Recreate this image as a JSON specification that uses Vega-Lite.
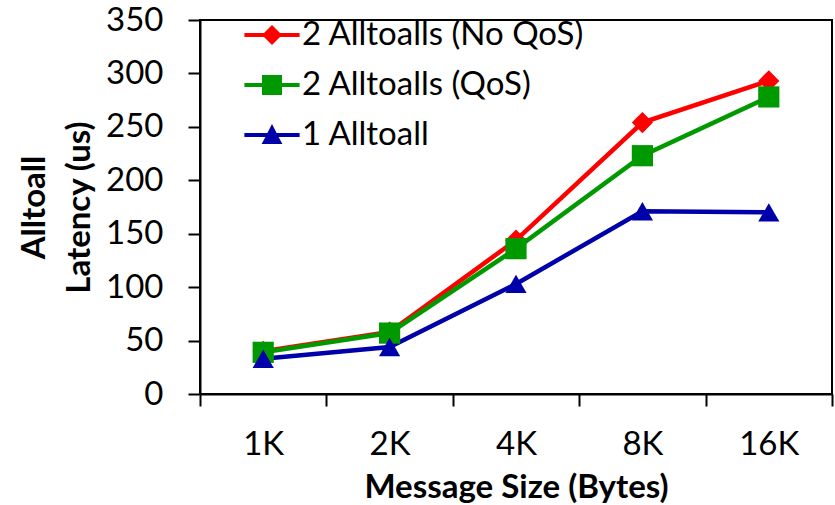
{
  "$schema": "https://vega.github.io/schema/vega-lite/v6.json",
  "width": 632,
  "height": 374,
  "autosize": {"type": "none"},
  "padding": {"left": 200, "top": 20, "right": 3, "bottom": 111},
  "background": "white",
  "config": {
    "view": {"stroke": "black", "strokeWidth": 2},
    "font": "Lato"
  },
  "data": {
    "values": [
      {"size": "1K", "series": "2 Alltoalls (No QoS)", "latency": 40},
      {"size": "2K", "series": "2 Alltoalls (No QoS)", "latency": 58},
      {"size": "4K", "series": "2 Alltoalls (No QoS)", "latency": 144},
      {"size": "8K", "series": "2 Alltoalls (No QoS)", "latency": 254},
      {"size": "16K", "series": "2 Alltoalls (No QoS)", "latency": 293},
      {"size": "1K", "series": "2 Alltoalls (QoS)", "latency": 39},
      {"size": "2K", "series": "2 Alltoalls (QoS)", "latency": 57},
      {"size": "4K", "series": "2 Alltoalls (QoS)", "latency": 136},
      {"size": "8K", "series": "2 Alltoalls (QoS)", "latency": 223},
      {"size": "16K", "series": "2 Alltoalls (QoS)", "latency": 278},
      {"size": "1K", "series": "1 Alltoall", "latency": 33},
      {"size": "2K", "series": "1 Alltoall", "latency": 44},
      {"size": "4K", "series": "1 Alltoall", "latency": 103},
      {"size": "8K", "series": "1 Alltoall", "latency": 171},
      {"size": "16K", "series": "1 Alltoall", "latency": 170}
    ]
  },
  "encoding": {
    "x": {
      "field": "size",
      "type": "ordinal",
      "sort": ["1K", "2K", "4K", "8K", "16K"],
      "scale": {"type": "band", "paddingInner": 0, "paddingOuter": 0},
      "axis": {
        "title": "Message Size (Bytes)",
        "titleFont": "Lato",
        "titleFontSize": 33,
        "titleFontWeight": "bold",
        "titleColor": "black",
        "titleBaseline": "alphabetic",
        "titleY": 103,
        "labelAngle": 0,
        "labelFont": "Lato",
        "labelFontSize": 33,
        "labelColor": "black",
        "labelBaseline": "alphabetic",
        "labelPadding": 48,
        "tickBand": "extent",
        "tickSize": 12,
        "tickColor": "black",
        "tickWidth": 2,
        "domainColor": "black",
        "domainWidth": 2,
        "grid": false
      }
    },
    "y": {
      "field": "latency",
      "type": "quantitative",
      "scale": {"domain": [0, 350], "nice": false},
      "axis": {
        "title": ["Alltoall", "Latency (us)"],
        "titleFont": "Lato",
        "titleFontSize": 33,
        "titleFontWeight": "bold",
        "titleColor": "black",
        "titleAngle": 270,
        "titleBaseline": "alphabetic",
        "titleAlign": "center",
        "titleX": -156,
        "titleY": 187,
        "titleLineHeight": 45,
        "values": [0, 50, 100, 150, 200, 250, 300, 350],
        "labelFont": "Lato",
        "labelFontSize": 33,
        "labelColor": "black",
        "labelPadding": 25,
        "tickSize": 12,
        "tickColor": "black",
        "tickWidth": 2,
        "domainColor": "black",
        "domainWidth": 2,
        "grid": false
      }
    }
  },
  "layer": [
    {
      "mark": {"type": "line", "strokeWidth": 4.5},
      "encoding": {
        "color": {
          "field": "series",
          "type": "nominal",
          "scale": {
            "domain": ["2 Alltoalls (No QoS)", "2 Alltoalls (QoS)", "1 Alltoall"],
            "range": ["#FF0000", "#009900", "#0000AA"]
          },
          "legend": null
        }
      }
    },
    {
      "mark": {"type": "point", "filled": true, "size": 450, "opacity": 1},
      "encoding": {
        "color": {
          "field": "series",
          "type": "nominal",
          "scale": {
            "domain": ["2 Alltoalls (No QoS)", "2 Alltoalls (QoS)", "1 Alltoall"],
            "range": ["#FF0000", "#009900", "#0000AA"]
          },
          "legend": null
        },
        "shape": {
          "field": "series",
          "type": "nominal",
          "scale": {
            "domain": ["2 Alltoalls (No QoS)", "2 Alltoalls (QoS)", "1 Alltoall"],
            "range": ["diamond", "square", "triangle-up"]
          },
          "legend": null
        }
      }
    },
    {
      "transform": [{"filter": "false"}],
      "mark": {"type": "point", "filled": true, "opacity": 1},
      "encoding": {
        "color": {
          "field": "series",
          "type": "nominal",
          "scale": {
            "domain": ["2 Alltoalls (No QoS)", "2 Alltoalls (QoS)", "1 Alltoall"],
            "range": ["#FF0000", "#009900", "#0000AA"]
          },
          "legend": {
            "orient": "none",
            "legendX": 52,
            "legendY": -5,
            "title": null,
            "symbolSize": 1600,
            "symbolStrokeWidth": 0,
            "symbolOpacity": 1,
            "labelFont": "Lato",
            "labelFontSize": 33,
            "labelColor": "black",
            "labelLimit": 0,
            "labelOffset": 10,
            "rowPadding": 13,
            "padding": 0
          }
        },
        "shape": {
          "field": "series",
          "type": "nominal",
          "scale": {
            "domain": ["2 Alltoalls (No QoS)", "2 Alltoalls (QoS)", "1 Alltoall"],
            "range": [
              "M-1.38,-0.1H-0.4L0,-0.5L0.4,-0.1H1.38V0.1H0.4L0,0.5L-0.4,0.1H-1.38Z",
              "M-1.38,-0.1H-0.5V-0.5H0.5V-0.1H1.38V0.1H0.5V0.5H-0.5V0.1H-1.38Z",
              "M-1.38,-0.1H-0.23L0,-0.55L0.23,-0.1H1.38V0.1H0.33L0.52,0.45H-0.52L-0.33,0.1H-1.38Z"
            ]
          },
          "legend": {
            "orient": "none",
            "legendX": 52,
            "legendY": -5,
            "title": null,
            "symbolSize": 1600,
            "symbolStrokeWidth": 0,
            "symbolOpacity": 1,
            "labelFont": "Lato",
            "labelFontSize": 33,
            "labelColor": "black",
            "labelLimit": 0,
            "labelOffset": 10,
            "rowPadding": 13,
            "padding": 0
          }
        }
      }
    }
  ],
  "resolve": {"scale": {"shape": "independent", "color": "independent"}}
}
